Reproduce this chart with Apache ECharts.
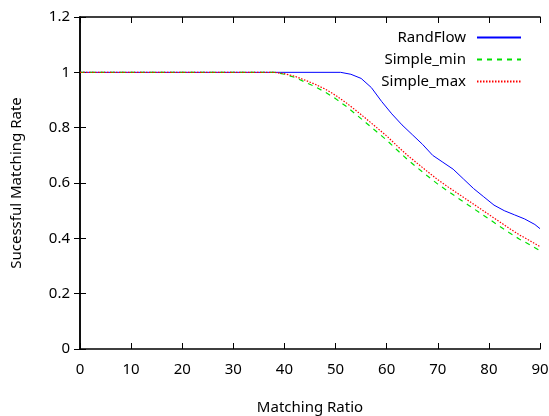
<!DOCTYPE html>
<html><head><meta charset="utf-8">
<script src="https://cdn.jsdelivr.net/npm/echarts@6/dist/echarts.min.js"></script>
<style>html,body{margin:0;padding:0;background:#fff}#c{width:549px;height:416px}</style>
</head><body><div id="c"></div>
<script>
const xRand = [0, 51, 53, 55, 57, 59, 61, 63, 65, 67, 69, 71, 73, 75, 77, 79, 81, 83, 85, 87, 89, 90];
const randFlow = [1, 1, 0.993, 0.978, 0.945, 0.895, 0.85, 0.81, 0.775, 0.74, 0.70, 0.675, 0.65, 0.615, 0.58, 0.55, 0.52, 0.50, 0.485, 0.47, 0.45, 0.435];
const xSimple = [0, 38, 40, 42, 44, 46, 48, 50, 52, 54, 56, 58, 60, 62, 64, 66, 68, 70, 72, 74, 76, 78, 80, 82, 84, 86, 88, 90];
const simpleMin = [1, 1, 0.993, 0.982, 0.965, 0.948, 0.928, 0.905, 0.878, 0.848, 0.817, 0.786, 0.755, 0.72, 0.686, 0.655, 0.625, 0.596, 0.57, 0.545, 0.52, 0.495, 0.47, 0.445, 0.42, 0.397, 0.377, 0.355];
const simpleMax = [1, 1, 0.995, 0.986, 0.972, 0.957, 0.939, 0.917, 0.891, 0.862, 0.832, 0.801, 0.77, 0.735, 0.701, 0.671, 0.641, 0.612, 0.586, 0.561, 0.536, 0.511, 0.486, 0.461, 0.436, 0.412, 0.392, 0.37];
const xTicks = [0, 10, 20, 30, 40, 50, 60, 70, 80, 90];
const yTicks = [0, 0.2, 0.4, 0.6, 0.8, 1, 1.2];

const zip = (xs, ys) => xs.map((x, i) => [x, ys[i]]);
const F = "'Noto Sans',sans-serif";
const FS = 15;
const hideSplit = {show: true, lineStyle: {color: 'rgba(0,0,0,0)'}};
const chart = echarts.init(document.getElementById('c'));
chart.setOption({
  animation: false,
  grid: {left: 80, right: 9, top: 17, bottom: 67, outerBoundsMode: 'none'},
  legend: {
    orient: 'vertical', right: 22, top: 25, align: 'right', itemGap: 7,
    itemWidth: 44, itemHeight: 16, itemStyle: {opacity: 0},
    textStyle: {fontFamily: F, fontSize: FS, color: '#000', padding: [0, 6, 0, 0]},
    data: ['RandFlow', 'Simple_min', 'Simple_max']
  },
  xAxis: [
    {type: 'value', min: 0, max: 90, interval: 10, position: 'bottom',
     name: 'Matching Ratio', nameLocation: 'middle', nameGap: 51,
     nameTextStyle: {fontFamily: F, fontSize: FS, color: '#000'},
     axisLine: {show: true, lineStyle: {color: 'black', width: 1.5}},
     axisTick: {show: true, inside: true, length: 6, lineStyle: {color: 'black'}},
     splitLine: hideSplit,
     axisLabel: {fontFamily: F, fontSize: FS, color: '#000', margin: 13,
       formatter: v => xTicks.includes(v) ? String(v) : ''}},
    {type: 'value', min: 0, max: 90, interval: 10, position: 'top',
     axisLine: {show: true, onZero: false, lineStyle: {color: 'black', width: 1.5}},
     axisTick: {show: true, inside: true, length: 6, lineStyle: {color: 'black'}},
     splitLine: hideSplit, axisLabel: {show: true, color: 'rgba(0,0,0,0)'}}
  ],
  yAxis: [
    {type: 'value', min: 0, max: 1.2, interval: 0.2, position: 'left',
     name: 'Sucessful Matching Rate', nameLocation: 'middle', nameGap: 56, nameRotate: 90,
     nameTextStyle: {fontFamily: F, fontSize: FS, color: '#000'},
     axisLine: {show: true, lineStyle: {color: 'black', width: 1.5}},
     axisTick: {show: true, inside: true, length: 6, lineStyle: {color: 'black'}},
     splitLine: hideSplit,
     axisLabel: {fontFamily: F, fontSize: FS, color: '#000', margin: 10,
       formatter: v => { const t = yTicks.find(y => Math.abs(y - v) < 1e-9); return t === undefined ? '' : String(t); }}},
    {type: 'value', min: 0, max: 1.2, interval: 0.2, position: 'right',
     axisLine: {show: true, lineStyle: {color: 'black', width: 1.5}},
     axisTick: {show: true, inside: true, length: 6, lineStyle: {color: 'black'}},
     splitLine: hideSplit, axisLabel: {show: true, color: 'rgba(0,0,0,0)'}}
  ],
  series: [
    {name: 'RandFlow', type: 'line', data: zip(xRand, randFlow), symbol: 'none',
     lineStyle: {color: '#0000ff', width: 1}, itemStyle: {color: '#0000ff'}},
    {name: 'Simple_min', type: 'line', data: zip(xSimple, simpleMin), symbol: 'none',
     lineStyle: {color: '#00e000', width: 1.2, type: [5, 5]}, itemStyle: {color: '#00e000'}},
    {name: 'Simple_max', type: 'line', data: zip(xSimple, simpleMax), symbol: 'none',
     lineStyle: {color: '#ff0000', width: 1.2, type: [1.5, 1.5]}, itemStyle: {color: '#ff0000'}}
  ]
});
</script></body></html>
